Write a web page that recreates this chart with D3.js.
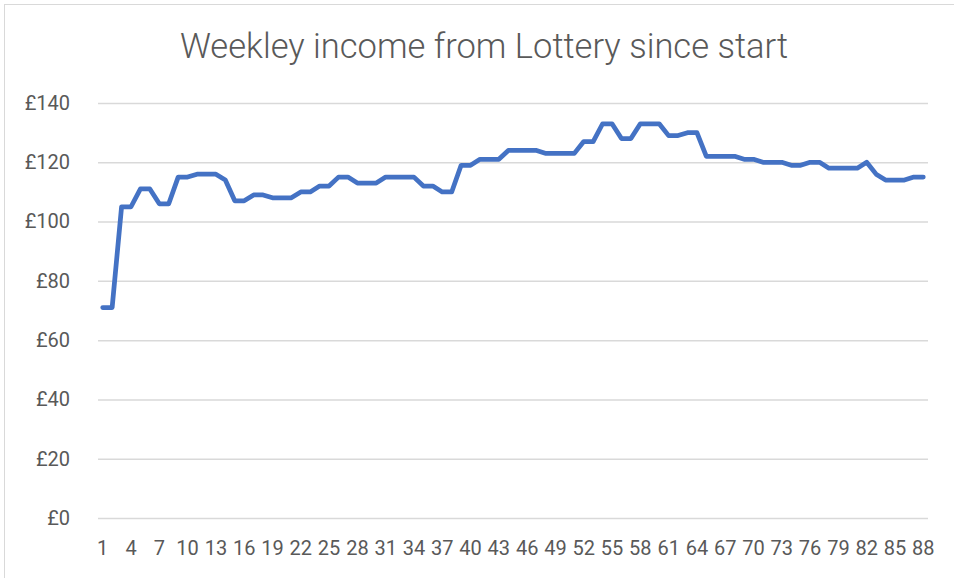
<!DOCTYPE html>
<html>
<head>
<meta charset="utf-8">
<script src="https://cdn.jsdelivr.net/npm/d3@7"></script>
<style>
  body { margin: 0; background: #fff; }
  text { font-family: Roboto, "Liberation Sans", sans-serif; fill: #595959; }
</style>
</head>
<body>
<div id="canvas"></div>
<script>
"use strict"

// weeks 1..88 and the weekly income
let weeks = d3.range(1, 89)
let income = [71, 71, 105, 105, 111, 111, 106, 106, 115, 115,
              116, 116, 116, 114, 107, 107, 109, 109, 108, 108,
              108, 110, 110, 112, 112, 115, 115, 113, 113, 113,
              115, 115, 115, 115, 112, 112, 110, 110, 119, 119,
              121, 121, 121, 124, 124, 124, 124, 123, 123, 123,
              123, 127, 127, 133, 133, 128, 128, 133, 133, 133,
              129, 129, 130, 130, 122, 122, 122, 122, 121, 121,
              120, 120, 120, 119, 119, 120, 120, 118, 118, 118,
              118, 120, 116, 114, 114, 114, 115, 115]
let yTicks = [0, 20, 40, 60, 80, 100, 120, 140]
let xTickLabels = weeks.filter(w => (w - 1) % 3 == 0)

let width = 954
let height = 578

let drawing = d3.select("#canvas")
    .append("svg")
    .attr("width", width)
    .attr("height", height)

/* light border round the chart area */
drawing.append("rect")
    .attr("x", 4.5)
    .attr("y", 4.5)
    .attr("width", width + 10)
    .attr("height", height + 10)
    .attr("fill", "none")
    .attr("stroke", "#d9d9d9")

let plotLeft = 98
let plotRight = 928

let x = d3.scaleBand()
    .domain(weeks)
    .range([plotLeft, plotRight])

let y = d3.scaleLinear()
    .domain([0, 140])
    .range([518, 103])

/* gridlines */
drawing.append("g")
    .attr("transform", "translate(" + plotLeft + ",0)")
    .call(d3.axisLeft(y).tickValues(yTicks).tickSize(-(plotRight - plotLeft)).tickFormat(""))
    .call(g => g.select(".domain").remove())
    .call(g => g.selectAll("line").attr("stroke", "#d9d9d9").attr("stroke-width", 1.5))

/* y labels */
drawing.append("g")
    .attr("transform", "translate(73,0)")
    .call(d3.axisLeft(y).tickValues(yTicks).tickSize(0).tickFormat(d => "£" + d))
    .call(g => g.select(".domain").remove())
    .call(g => g.selectAll("text")
        .attr("font-size", 20)
        .attr("fill", "#595959")
        .attr("font-family", "Roboto, 'Liberation Sans', sans-serif"))

/* x labels */
drawing.append("g")
    .attr("transform", "translate(0,538)")
    .call(d3.axisBottom(x).tickValues(xTickLabels).tickSize(0))
    .call(g => g.select(".domain").remove())
    .call(g => g.selectAll("text")
        .attr("font-size", 20)
        .attr("fill", "#595959")
        .attr("font-family", "Roboto, 'Liberation Sans', sans-serif"))

/* the line */
let line = d3.line()
    .x((d, i) => x(weeks[i]) + x.bandwidth() / 2)
    .y(d => y(d))

drawing.append("path")
    .datum(income)
    .attr("d", line)
    .attr("fill", "none")
    .attr("stroke", "#4472c4")
    .attr("stroke-width", 4.75)
    .attr("stroke-linejoin", "round")
    .attr("stroke-linecap", "round")

/* title */
drawing.append("text")
    .attr("x", 484)
    .attr("y", 58)
    .attr("text-anchor", "middle")
    .attr("font-size", 34.5)
    .attr("font-weight", 300)
    .text("Weekley income from Lottery since start")
</script>
</body>
</html>
